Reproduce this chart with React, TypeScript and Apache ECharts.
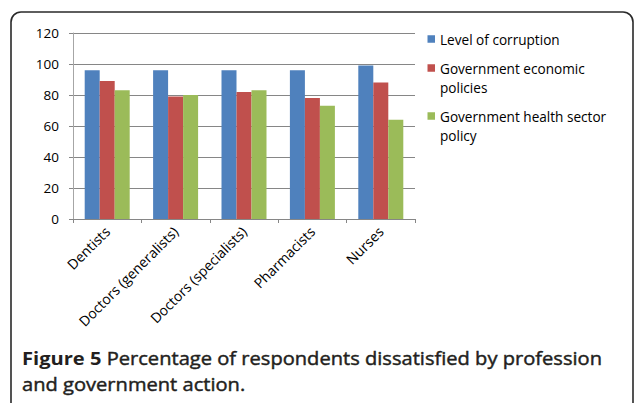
import React, { useEffect, useRef } from "react";
import * as echarts from "echarts";

// Professions on the category axis
const categories = [
  "Dentists",
  "Doctors (generalists)",
  "Doctors (specialists)",
  "Pharmacists",
  "Nurses",
];

// Percentage dissatisfied, per series
const corruption = [96, 96, 96, 96, 99];
const economicPolicies = [89, 79, 82, 78, 88];
const healthSectorPolicy = [83, 80, 83, 73, 64];

const seriesNames = [
  "Level of corruption",
  "Government economic policies",
  "Government health sector policy",
];
// Wrapped legend labels, one array of lines per series
const legendLines = [
  ["Level of corruption"],
  ["Government economic", "policies"],
  ["Government health sector", "policy"],
];
const seriesColors = ["#4F81BD", "#C0504D", "#9BBB59"];

// Value axis
const yMin = 0;
const yMax = 120;
const yInterval = 20;

// Caption
const captionBold = "Figure 5";
const captionLine1 = " Percentage of respondents dissatisfied by profession";
const captionLine2 = "and government action.";

const UI_FONT = "'Open Sans', 'Noto Sans', sans-serif";
const CAPTION_COLOR = "#231f20";

function measure(text: string, font: string): number {
  const c = document.createElement("canvas");
  const ctx = c.getContext("2d");
  if (!ctx) return 0;
  ctx.font = font;
  return ctx.measureText(text).width;
}

export default function App() {
  const ref = useRef<HTMLDivElement>(null);

  useEffect(() => {
    if (!ref.current) return;
    const chart = echarts.init(ref.current, undefined, { renderer: "svg" });

    const captionSize = 18.6;
    const boldW = measure(captionBold, `bold ${captionSize}px 'Open Sans'`);
    const restW = measure(captionLine1, `${captionSize}px 'Open Sans'`);
    const total = boldW + restW;
    let captionScale = total > 0 ? 580 / total : 1;
    captionScale = Math.max(0.8, Math.min(1.2, captionScale));

    const legendGraphics: any[] = [];
    let cy = 39;
    legendLines.forEach((lines, i) => {
      legendGraphics.push({
        type: "rect",
        shape: { x: 427.5, y: cy - 3.75, width: 7.5, height: 7.5 },
        style: { fill: seriesColors[i] },
      });
      lines.forEach((line, j) => {
        legendGraphics.push({
          type: "text",
          x: 440,
          y: cy + j * 19,
          style: {
            text: line,
            fill: "#000",
            font: `13.6px ${UI_FONT}`,
            verticalAlign: "middle",
            align: "left",
          },
        });
      });
      cy += lines.length * 19 + 10;
    });

    const seriesData = [corruption, economicPolicies, healthSectorPolicy];

    chart.setOption({
      animation: false,
      backgroundColor: "#fff",
      grid: { left: 73, right: 221, top: 33, bottom: 184, containLabel: false },
      xAxis: {
        type: "category",
        data: categories,
        axisLine: { lineStyle: { color: "#868686", width: 1 } },
        axisTick: { show: true, length: 4, alignWithLabel: false, lineStyle: { color: "#868686" } },
        axisLabel: {
          interval: 0,
          rotate: 45,
          margin: 10,
          color: "#000",
          fontSize: 14,
          fontFamily: UI_FONT,
        },
      },
      yAxis: {
        type: "value",
        min: yMin,
        max: yMax,
        interval: yInterval,
        axisLine: { show: true, lineStyle: { color: "#a6a6a6", width: 1 } },
        axisTick: { show: true, length: 4, lineStyle: { color: "#868686" } },
        splitLine: { lineStyle: { color: "#868686", width: 1 } },
        axisLabel: {
          margin: 14,
          color: "#000",
          fontSize: 13.5,
          fontFamily: UI_FONT,
        },
      },
      series: seriesNames.map((name, i) => ({
        type: "bar",
        name,
        data: seriesData[i],
        barWidth: 15,
        barGap: "0%",
        itemStyle: { color: seriesColors[i] },
      })),
      graphic: [
        {
          type: "rect",
          shape: { x: 11, y: 12, width: 622, height: 402, r: 10 },
          style: { fill: "none", stroke: "#2a2a2a", lineWidth: 1.6 },
          silent: true,
        },
        ...legendGraphics,
        {
          type: "text",
          x: 22,
          y: 358,
          scaleX: captionScale,
          style: {
            text: `{b|${captionBold}}{r|${captionLine1}}`,
            verticalAlign: "middle",
            align: "left",
            rich: {
              b: { font: `bold ${captionSize}px 'Open Sans'`, fill: CAPTION_COLOR },
              r: {
                font: `${captionSize}px 'Open Sans'`,
                fill: CAPTION_COLOR,
                stroke: CAPTION_COLOR,
                lineWidth: 0.45,
              },
            },
          },
        },
        {
          type: "text",
          x: 22,
          y: 384,
          scaleX: captionScale,
          style: {
            text: captionLine2,
            font: `${captionSize}px 'Open Sans'`,
            fill: CAPTION_COLOR,
            stroke: CAPTION_COLOR,
            lineWidth: 0.45,
            verticalAlign: "middle",
            align: "left",
          },
        },
      ],
    });

    return () => chart.dispose();
  }, []);

  return (
    <div
      ref={ref}
      style={{ position: "absolute", left: 0, top: 0, width: 636, height: 403 }}
    />
  );
}
